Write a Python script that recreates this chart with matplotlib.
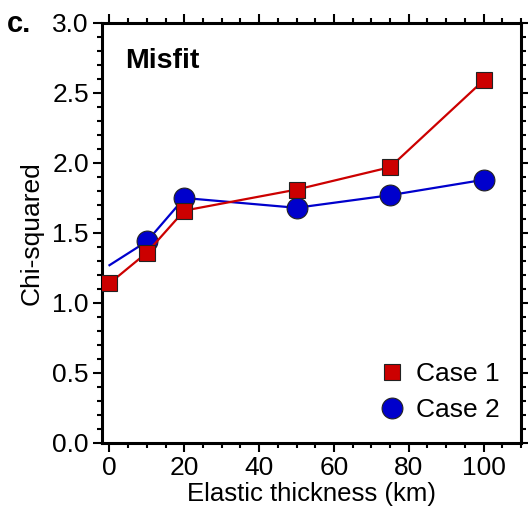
import matplotlib
matplotlib.use("Agg")
import matplotlib.pyplot as plt
from matplotlib.ticker import MultipleLocator, FormatStrFormatter

plt.rcParams['font.family'] = ['Liberation Sans', 'DejaVu Sans']

# elastic thickness (km) and chi-squared misfit
case1_x = [0, 10, 20, 50, 75, 100]
case1_y = [1.14, 1.36, 1.66, 1.81, 1.97, 2.59]
case2_x = [0, 10, 20, 50, 75, 100]
case2_y = [1.27, 1.44, 1.75, 1.68, 1.77, 1.88]

red = '#cc0000'
blue = '#0000cc'

fig = plt.figure(figsize=(5.28, 5.13), dpi=100)
ax = fig.add_axes([102/528, 1 - 443/513, 419/528, 420/513])

ax.plot(case2_x, case2_y, '-', color=blue, lw=1.6, zorder=2)
ax.plot(case2_x[1:], case2_y[1:], 'o', color=blue, ms=15, mec='#222222', mew=0.8,
        zorder=3, label='Case 2')
ax.plot(case1_x, case1_y, '-', color=red, lw=1.6, zorder=4)
ax.plot(case1_x, case1_y, 's', color=red, ms=11.5, mec='#222222', mew=0.8,
        zorder=5, label='Case 1')

ax.set_xlim(-2, 110)
ax.set_ylim(0, 3)
ax.xaxis.set_major_locator(MultipleLocator(20))
ax.xaxis.set_minor_locator(MultipleLocator(5))
ax.yaxis.set_major_locator(MultipleLocator(0.5))
ax.yaxis.set_minor_locator(MultipleLocator(0.1))
ax.yaxis.set_major_formatter(FormatStrFormatter('%.1f'))

for s in ax.spines.values():
    s.set_linewidth(2.2)
ax.tick_params(which='both', direction='out', top=True, right=True,
               labeltop=False, labelright=False, width=1.5, labelsize=19, pad=3)
ax.tick_params(which='major', length=6.5)
ax.tick_params(which='minor', length=3.5)

ax.set_xlabel('Elastic thickness (km)', fontsize=18.5, labelpad=1)
ax.set_ylabel('Chi-squared', fontsize=19, labelpad=6)

ax.text(0.055, 0.91, 'Misfit', transform=ax.transAxes, fontsize=20.5,
        fontweight='bold', va='center')
fig.text(7/528, 1 - 24/513, 'c.', fontsize=21, fontweight='bold', va='center')

h, l = ax.get_legend_handles_labels()
ax.legend(h[::-1], l[::-1], loc='lower right', frameon=False, fontsize=19,
          handlelength=0.8, handletextpad=0.5, labelspacing=0.45,
          borderaxespad=0.5, borderpad=0.3)

fig.savefig('out.png', dpi=100)
